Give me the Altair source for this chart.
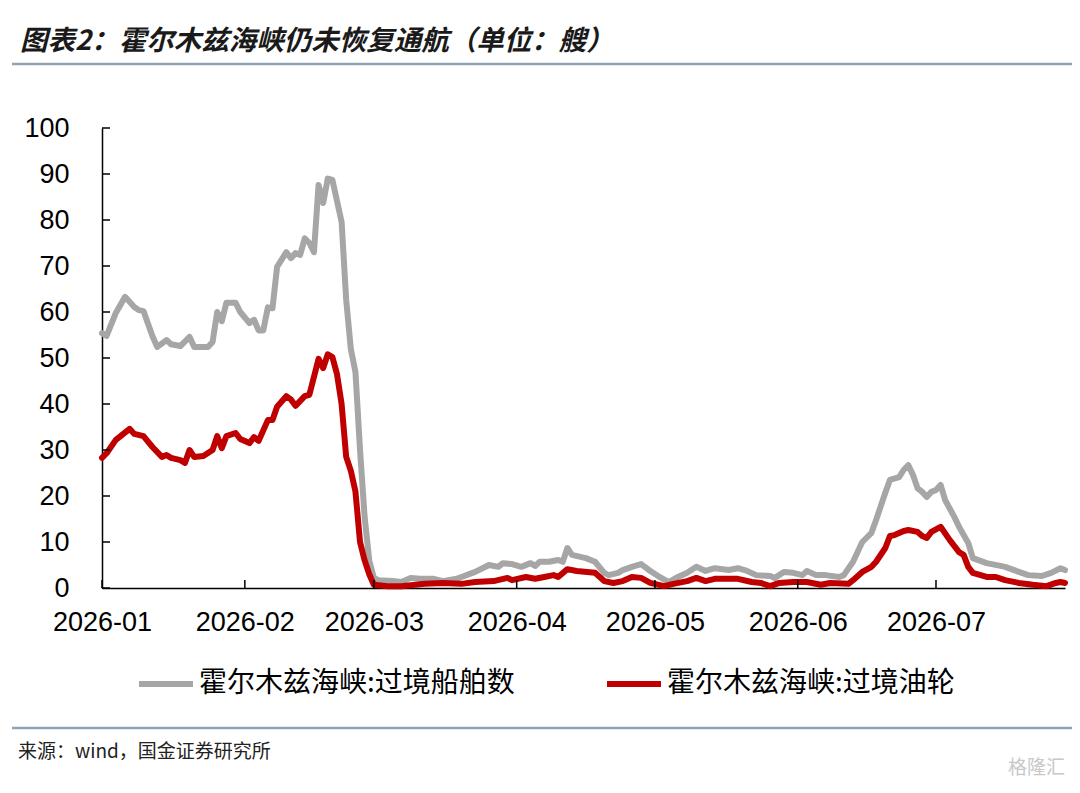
import altair as alt
import pandas as pd

TITLE = "图表2：霍尔木兹海峡仍未恢复通航（单位：艘）"
SOURCE = "来源：wind，国金证券研究所"
WATERMARK = "格隆汇"
SERIES = ["霍尔木兹海峡:过境船舶数", "霍尔木兹海峡:过境油轮"]
COLORS = ["#A6A6A6", "#C00000"]
Y_TICKS = list(range(0, 101, 10))
MONTH_TICKS = ["2026-01-01", "2026-02-01", "2026-03-01", "2026-04-01",
               "2026-05-01", "2026-06-01", "2026-07-01"]

gray_dates = [
    "01-01", "01-02", "01-04", "01-06", "01-08", "01-09", "01-10", "01-12", "01-13", "01-15",
    "01-16", "01-18", "01-20", "01-21", "01-24", "01-25", "01-26", "01-27", "01-28", "01-30",
    "01-31", "02-02", "02-03", "02-04", "02-05", "02-06", "02-07", "02-08", "02-10", "02-11",
    "02-12", "02-13", "02-14", "02-15", "02-16", "02-17", "02-18", "02-19", "02-20", "02-22",
    "02-23", "02-24", "02-25", "02-26", "02-27", "02-28", "03-01", "03-02", "03-05", "03-07",
    "03-09", "03-11", "03-14", "03-16", "03-19", "03-20", "03-23", "03-26", "03-28", "03-29",
    "03-31", "04-02", "04-04", "04-05", "04-06", "04-08", "04-10", "04-11", "04-12", "04-13",
    "04-16", "04-18", "04-20", "04-21", "04-23", "04-24", "04-26", "04-28", "04-30", "05-02",
    "05-04", "05-06", "05-08", "05-10", "05-12", "05-14", "05-17", "05-19", "05-21", "05-23",
    "05-26", "05-27", "05-29", "05-31", "06-02", "06-03", "06-05", "06-07", "06-10", "06-11",
    "06-13", "06-15", "06-17", "06-18", "06-20", "06-21", "06-23", "06-24", "06-25", "06-26",
    "06-27", "06-28", "06-29", "06-30", "07-01", "07-02", "07-03", "07-05", "07-06", "07-08",
    "07-09", "07-12", "07-15", "07-16", "07-19", "07-21", "07-24", "07-26", "07-28", "07-29",
]
gray_vals = [
    55.4, 54.8, 59.8, 63.3, 61.1, 60.4, 60.2, 54.6, 52.4, 53.9,
    53.0, 52.6, 54.6, 52.4, 52.4, 53.5, 60.0, 58.0, 62.0, 62.0,
    60.0, 57.6, 58.3, 56.0, 56.0, 61.0, 60.8, 69.8, 73.0, 71.7,
    72.8, 72.4, 76.0, 75.0, 73.0, 87.6, 83.7, 89.0, 88.7, 79.6,
    62.6, 52.0, 47.0, 30.0, 15.4, 6.0, 2.2, 1.7, 1.5, 1.3,
    2.2, 2.0, 2.0, 1.5, 2.0, 2.4, 3.5, 5.0, 4.6, 5.4,
    5.2, 4.6, 5.4, 4.8, 5.7, 5.7, 6.1, 5.7, 8.7, 7.2,
    6.5, 5.7, 3.3, 2.8, 3.3, 3.9, 4.6, 5.2, 3.7, 2.4,
    1.3, 2.4, 3.3, 4.6, 3.7, 4.3, 3.9, 4.3, 3.7, 2.8,
    2.6, 2.2, 3.5, 3.3, 2.8, 3.7, 2.8, 2.8, 2.4, 2.8,
    5.7, 10.0, 12.0, 14.8, 20.7, 23.5, 24.1, 25.7, 26.7, 24.6,
    21.7, 20.9, 19.8, 20.9, 21.3, 22.4, 19.1, 15.4, 13.3, 9.8,
    6.5, 5.4, 4.8, 4.6, 3.5, 2.8, 2.6, 3.3, 4.3, 3.9,
]

red_dates = [
    "01-01", "01-02", "01-04", "01-07", "01-08", "01-10", "01-12", "01-14", "01-15", "01-16",
    "01-18", "01-19", "01-20", "01-21", "01-23", "01-25", "01-26", "01-27", "01-28", "01-30",
    "01-31", "02-02", "02-03", "02-04", "02-06", "02-07", "02-08", "02-10", "02-11", "02-12",
    "02-14", "02-15", "02-17", "02-18", "02-19", "02-20", "02-21", "02-22", "02-23", "02-24",
    "02-25", "02-26", "02-27", "02-28", "03-01", "03-04", "03-07", "03-12", "03-16", "03-20",
    "03-23", "03-27", "03-30", "03-31", "04-03", "04-05", "04-07", "04-09", "04-10", "04-12",
    "04-14", "04-18", "04-20", "04-22", "04-24", "04-26", "04-28", "04-30", "05-03", "05-05",
    "05-08", "05-10", "05-12", "05-14", "05-17", "05-19", "05-22", "05-24", "05-26", "05-28",
    "05-31", "06-03", "06-06", "06-08", "06-12", "06-13", "06-15", "06-17", "06-18", "06-20",
    "06-21", "06-22", "06-24", "06-25", "06-27", "06-28", "06-29", "06-30", "07-02", "07-04",
    "07-06", "07-07", "07-08", "07-09", "07-12", "07-14", "07-16", "07-19", "07-22", "07-25",
    "07-27", "07-28", "07-29",
]
red_vals = [
    28.3, 29.3, 32.2, 34.6, 33.5, 33.0, 30.6, 28.5, 28.9, 28.3,
    27.8, 27.2, 30.0, 28.5, 28.7, 30.0, 33.0, 30.4, 33.0, 33.7,
    32.4, 31.5, 32.8, 32.0, 36.5, 36.5, 39.4, 41.7, 41.0, 39.6,
    41.7, 42.0, 49.8, 47.8, 50.8, 50.2, 46.5, 40.0, 28.5, 25.5,
    21.0, 10.0, 6.0, 3.0, 0.7, 0.4, 0.4, 0.9, 1.1, 0.9,
    1.3, 1.5, 2.2, 1.7, 2.4, 2.0, 2.4, 2.8, 2.4, 4.1,
    3.7, 3.3, 1.5, 1.1, 1.5, 2.4, 2.2, 1.1, 0.4, 0.9,
    1.5, 2.2, 1.5, 2.0, 2.0, 2.0, 1.3, 1.1, 0.4, 1.1,
    1.3, 1.3, 0.7, 1.1, 0.9, 1.7, 3.5, 4.6, 5.7, 8.7,
    11.3, 11.5, 12.4, 12.6, 12.2, 11.3, 10.9, 12.2, 13.3, 10.4,
    7.8, 7.2, 4.6, 3.3, 2.4, 2.4, 1.7, 1.1, 0.7, 0.4,
    1.1, 1.3, 1.1,
]

rows = [{"date": "2026-" + d, "value": v, "series": SERIES[0]} for d, v in zip(gray_dates, gray_vals)]
rows += [{"date": "2026-" + d, "value": v, "series": SERIES[1]} for d, v in zip(red_dates, red_vals)]
df = pd.DataFrame(rows)

W, H = 963, 460
AXIS_FONT = "Liberation Sans"
CJK_FONT = "Noto Sans CJK SC"

x_enc = alt.X(
    "date:T",
    scale=alt.Scale(type="utc", domain=[
        alt.DateTime(year=2026, month=1, date=1, utc=True),
        alt.DateTime(year=2026, month=7, date=29, utc=True)]),
    axis=alt.Axis(
        values=[alt.DateTime(year=2026, month=m, date=1, utc=True) for m in range(1, 8)],
        format="%Y-%m", labelFontSize=27, labelFont=AXIS_FONT, labelColor="black",
        ticks=False, labelPadding=21, domainColor="black", domainWidth=1.5,
        grid=False, title=None, labelOverlap=False, labelFlush=False),
)
y_enc = alt.Y(
    "value:Q",
    scale=alt.Scale(domain=[0, 100], nice=False),
    axis=alt.Axis(
        values=Y_TICKS, labelFontSize=27, labelFont=AXIS_FONT, labelColor="black",
        ticks=False, labelPadding=33, domainColor="black", domainWidth=1.5,
        grid=False, title=None),
)
color_enc = alt.Color(
    "series:N",
    scale=alt.Scale(domain=SERIES, range=COLORS),
    legend=alt.Legend(
        orient="none", legendX=34, legendY=526, direction="horizontal", title=None,
        symbolType="stroke", symbolSize=2916, symbolStrokeWidth=6,
        labelFont=CJK_FONT, labelFontSize=28, labelColor="black", labelLimit=600,
        columnPadding=80, labelOffset=3),
)

base = alt.Chart(df).encode(x=x_enc, y=y_enc, color=color_enc)
gray_line = base.transform_filter(alt.datum.series == SERIES[0]).mark_line(
    strokeWidth=6, strokeJoin="round", strokeCap="round")
red_line = base.transform_filter(alt.datum.series == SERIES[1]).mark_line(
    strokeWidth=6, strokeJoin="round", strokeCap="round")

ticks_x = alt.Chart(pd.DataFrame({"date": MONTH_TICKS})).mark_rule(
    color="black", strokeWidth=1.5).encode(x="date:T", y=alt.value(H - 8), y2=alt.value(H))
ticks_y = alt.Chart(pd.DataFrame({"value": Y_TICKS})).mark_rule(
    color="black", strokeWidth=1.5).encode(y="value:Q", x=alt.value(0), x2=alt.value(8))

one = alt.Data(values=[{"k": 1}])
sep_top = alt.Chart(one).mark_rule(color="#8FA3B4", strokeWidth=2.5).encode(
    x=alt.value(-90), x2=alt.value(W + 10), y=alt.value(-64))
sep_bottom = alt.Chart(one).mark_rule(color="#8FA3B4", strokeWidth=2.5).encode(
    x=alt.value(-90), x2=alt.value(W + 10), y=alt.value(600))

title = alt.Chart(alt.Data(values=[{"t": TITLE}])).mark_text(
    align="left", baseline="middle", font=CJK_FONT, fontSize=27.5, fontWeight="bold",
    fontStyle="italic", color="#1A1A1A").encode(
    text="t:N", x=alt.value(-82), y=alt.value(-86))
source = alt.Chart(alt.Data(values=[{"t": SOURCE}])).mark_text(
    align="left", baseline="middle", font=CJK_FONT, fontSize=19, color="#222222").encode(
    text="t:N", x=alt.value(-84), y=alt.value(624))
mark_wm = alt.Chart(alt.Data(values=[{"t": WATERMARK}])).mark_text(
    align="right", baseline="middle", font=CJK_FONT, fontSize=19, color="#C8C8C8").encode(
    text="t:N", x=alt.value(W), y=alt.value(640))

chart = alt.layer(
    sep_top, sep_bottom, gray_line, red_line, ticks_x, ticks_y, title, source, mark_wm
).properties(
    width=W, height=H,
    padding={"left": 94, "top": 120, "right": 7, "bottom": 190},
    autosize=alt.AutoSizeParams(type="none"),
).configure_view(stroke=None)

chart.save("out.html", embed_options={"renderer": "svg", "actions": False})
